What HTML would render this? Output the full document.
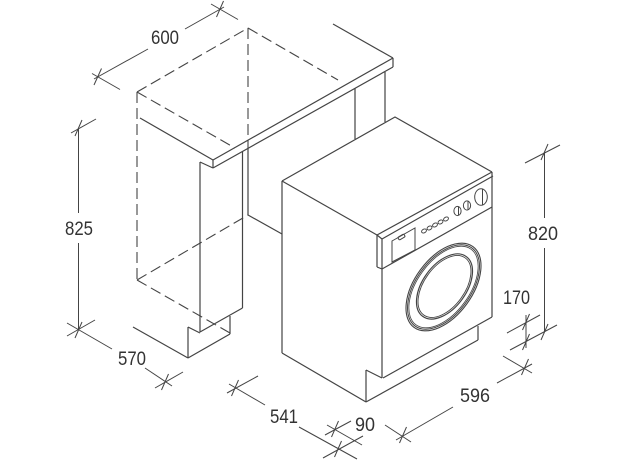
<!DOCTYPE html>
<html>
<head>
<meta charset="utf-8">
<style>
  html,body{margin:0;padding:0;background:#fff;}
  svg{display:block;}
  text{font-family:"Liberation Sans",sans-serif;font-size:19px;fill:#333;}
</style>
</head>
<body>
<svg width="624" height="460" viewBox="0 0 624 460" xmlns="http://www.w3.org/2000/svg">
  <rect width="624" height="460" fill="#fff"/>

  <!-- Dashed cabinet outline -->
  <g stroke="#444" stroke-width="1.1" fill="none" stroke-dasharray="11 5">
    <line x1="137" y1="92" x2="248" y2="28"/>
    <line x1="248" y1="28" x2="338" y2="80"/>
    <line x1="137" y1="92" x2="235" y2="148"/>
    <line x1="248" y1="28" x2="248" y2="148"/>
    <line x1="137" y1="92" x2="137" y2="280"/>
    <line x1="137" y1="280" x2="248" y2="215"/>
    <line x1="137" y1="280" x2="230" y2="333"/>
  </g>

  <!-- Solid cabinet / countertop -->
  <g stroke="#444" stroke-width="1.2" fill="none" stroke-linejoin="round">
    <line x1="140" y1="118" x2="213" y2="160"/>
    <line x1="213" y1="160" x2="393" y2="58"/>
    <line x1="213" y1="160" x2="213" y2="168"/>
    <line x1="213" y1="168" x2="393" y2="67"/>
    <line x1="393" y1="58" x2="393" y2="67"/>
    <line x1="333" y1="24" x2="393" y2="58"/>
    <line x1="200" y1="162" x2="213" y2="168"/>
    <line x1="200" y1="162" x2="200" y2="332"/>
    <line x1="242.5" y1="151" x2="242.5" y2="308"/>
    <line x1="248" y1="148" x2="248" y2="215"/>
    <line x1="248" y1="215" x2="282" y2="234"/>
    <line x1="200" y1="332" x2="242.5" y2="308"/>
    <line x1="188" y1="327" x2="200" y2="333"/>
    <line x1="188" y1="327" x2="188" y2="358"/>
    <line x1="188" y1="358" x2="230" y2="334"/>
    <line x1="230" y1="316" x2="230" y2="334"/>
    <line x1="133" y1="327" x2="188" y2="358"/>
    <line x1="355" y1="88" x2="355" y2="139"/>
    <line x1="385" y1="72" x2="385" y2="122"/>
  </g>

  <!-- Washing machine -->
  <g stroke="#444" stroke-width="1.2" fill="none" stroke-linejoin="round">
    <polyline points="282,181 395,117 492,172"/>
    <line x1="282" y1="181" x2="377" y2="235"/>
    <line x1="377" y1="235" x2="492" y2="172"/>
    <line x1="377" y1="235" x2="382" y2="239"/>
    <line x1="382" y1="239" x2="493" y2="176"/>
    <line x1="377" y1="235" x2="377" y2="267"/>
    <line x1="377" y1="267" x2="382" y2="269"/>
    <line x1="382" y1="239" x2="382" y2="378"/>
    <line x1="382" y1="269" x2="492" y2="207"/>
    <line x1="492" y1="172" x2="492" y2="317"/>
    <line x1="383" y1="378" x2="492" y2="317"/>
    <line x1="282" y1="181" x2="282" y2="353"/>
    <line x1="282" y1="353" x2="366" y2="402"/>
    <line x1="366" y1="370" x2="366" y2="402"/>
    <line x1="366" y1="370" x2="382" y2="378"/>
    <line x1="366" y1="402" x2="478" y2="340"/>
    <line x1="478" y1="326" x2="478" y2="340"/>
  </g>

  <!-- Control panel details -->
  <g stroke="#444" stroke-width="1" fill="none">
    <polygon points="392,241 415,228 415,250 392,262"/>
    <rect x="-3.5" y="-1.6" width="7" height="3.2" rx="1.2" transform="translate(401.5,237) rotate(-30)"/>
    <ellipse cx="424" cy="231" rx="2.6" ry="1.8" transform="rotate(-30 424 231)"/>
    <ellipse cx="429.5" cy="228" rx="2.6" ry="1.8" transform="rotate(-30 429.5 228)"/>
    <ellipse cx="435" cy="225" rx="2.6" ry="1.8" transform="rotate(-30 435 225)"/>
    <ellipse cx="440.5" cy="222" rx="2.6" ry="1.8" transform="rotate(-30 440.5 222)"/>
    <ellipse cx="446" cy="219" rx="2.6" ry="1.8" transform="rotate(-30 446 219)"/>
    <ellipse cx="457.5" cy="211" rx="3.6" ry="4.6"/>
    <line x1="458.5" y1="206.5" x2="458.5" y2="215.5"/>
    <ellipse cx="467" cy="205.5" rx="3.6" ry="4.6"/>
    <line x1="468" y1="201" x2="468" y2="210"/>
    <ellipse cx="481" cy="197" rx="6.3" ry="8.3"/>
    <line x1="482.5" y1="189" x2="482.5" y2="205"/>
  </g>

  <!-- Door -->
  <g stroke="#444" fill="none" transform="translate(443.5,287) rotate(-54)">
    <ellipse cx="0" cy="0" rx="50" ry="28.8" stroke-width="1.1"/>
    <ellipse cx="0" cy="0" rx="48.3" ry="27.3" stroke-width="1"/>
    <ellipse cx="0" cy="0" rx="46.8" ry="26" stroke-width="0.8"/>
    <ellipse cx="1" cy="0.5" rx="37" ry="21.8" stroke-width="1.2"/>
    <ellipse cx="1" cy="0.5" rx="35.3" ry="20.3" stroke-width="0.9"/>
  </g>

  <!-- Dimension lines -->
  <g stroke="#444" stroke-width="1" fill="none">
    <!-- 600 -->
    <line x1="94" y1="79" x2="148" y2="49"/>
    <line x1="185" y1="29" x2="224" y2="7"/>
    <line x1="92" y1="73.5" x2="120" y2="89.5"/>
    <line x1="211" y1="4" x2="238" y2="19.5"/>
    <line x1="94" y1="85" x2="101.5" y2="68.5"/>
    <line x1="216.5" y1="17" x2="223.5" y2="1"/>

    <!-- 825 -->
    <line x1="78.5" y1="128" x2="78.5" y2="213"/>
    <line x1="78.5" y1="243" x2="78.5" y2="330"/>
    <line x1="71" y1="133" x2="96" y2="119"/>
    <line x1="67" y1="336" x2="95" y2="320"/>
    <line x1="75" y1="136" x2="82" y2="120"/>
    <line x1="75" y1="338" x2="82" y2="322"/>

    <!-- 570 -->
    <line x1="67" y1="323" x2="112" y2="349"/>
    <line x1="145" y1="368" x2="172" y2="386"/>
    <line x1="155" y1="388" x2="183" y2="372"/>
    <line x1="161.5" y1="390" x2="168.5" y2="374"/>

    <!-- 541 -->
    <line x1="227" y1="393" x2="258" y2="376"/>
    <line x1="229" y1="384" x2="265" y2="405"/>
    <line x1="299" y1="427" x2="357" y2="459"/>
    <line x1="231.5" y1="396" x2="238.5" y2="380"/>

    <!-- 90 -->
    <line x1="327" y1="425" x2="362" y2="445"/>
    <line x1="325" y1="435" x2="351" y2="421"/>
    <line x1="331.5" y1="437" x2="338.5" y2="421"/>
    <line x1="323" y1="458" x2="363" y2="436"/>
    <line x1="334.5" y1="457" x2="341.5" y2="441"/>

    <!-- 596 -->
    <line x1="385" y1="425" x2="411" y2="442"/>
    <line x1="396" y1="440" x2="453" y2="407"/>
    <line x1="497" y1="383" x2="532" y2="364"/>
    <line x1="503" y1="356" x2="532" y2="373"/>
    <line x1="399.5" y1="443" x2="406.5" y2="427"/>
    <line x1="521.5" y1="375" x2="528.5" y2="359"/>

    <!-- 170 -->
    <line x1="526" y1="315" x2="526" y2="348"/>
    <line x1="507" y1="333" x2="540" y2="315"/>
    <line x1="510" y1="350" x2="557" y2="325"/>
    <line x1="522.5" y1="330" x2="529.5" y2="314"/>
    <line x1="522.5" y1="350" x2="529.5" y2="334"/>

    <!-- 820 -->
    <line x1="544.5" y1="152" x2="544.5" y2="218"/>
    <line x1="544.5" y1="248" x2="544.5" y2="332"/>
    <line x1="525" y1="163" x2="560" y2="145"/>
    <line x1="541" y1="160" x2="548" y2="144"/>
    <line x1="541" y1="340" x2="548" y2="324"/>
  </g>

  <!-- Labels -->
  <text x="165" y="44" text-anchor="middle" textLength="28" lengthAdjust="spacingAndGlyphs">600</text>
  <text x="79" y="235" text-anchor="middle" textLength="28" lengthAdjust="spacingAndGlyphs">825</text>
  <text x="132" y="365" text-anchor="middle" textLength="28" lengthAdjust="spacingAndGlyphs">570</text>
  <text x="284" y="423" text-anchor="middle" textLength="28" lengthAdjust="spacingAndGlyphs">541</text>
  <text x="365" y="431" text-anchor="middle" textLength="20" lengthAdjust="spacingAndGlyphs">90</text>
  <text x="475" y="402" text-anchor="middle" textLength="30" lengthAdjust="spacingAndGlyphs">596</text>
  <text x="516.5" y="304" text-anchor="middle" textLength="27" lengthAdjust="spacingAndGlyphs">170</text>
  <text x="543" y="240" text-anchor="middle" textLength="30" lengthAdjust="spacingAndGlyphs">820</text>
</svg>
</body>
</html>
